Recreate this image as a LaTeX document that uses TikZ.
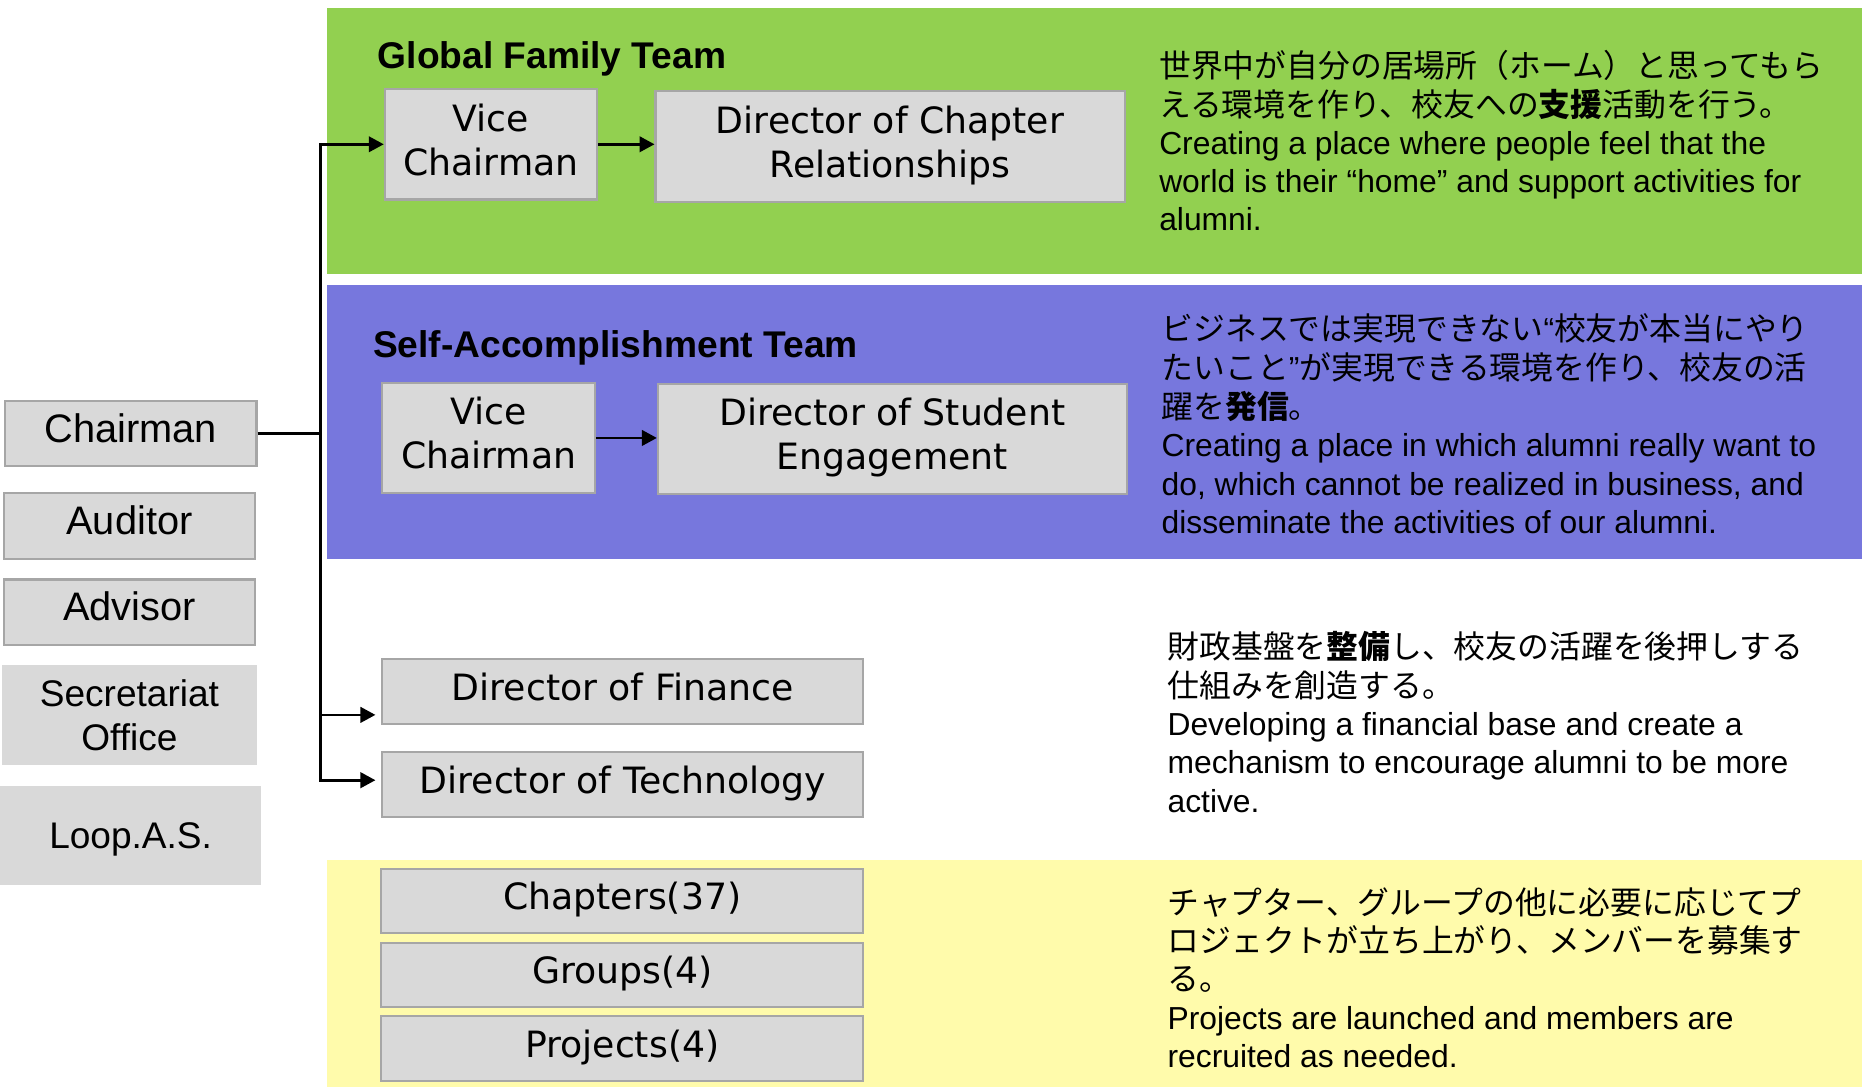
\documentclass[tikz,border=0pt]{standalone}
\usepackage{fontspec}
\setmainfont{Liberation Sans}
\newfontfamily\boxf{DejaVu Sans}
\newfontfamily\jp{Noto Sans CJK JP}
\usetikzlibrary{arrows.meta}
\definecolor{bandgreen}{HTML}{92D050}
\definecolor{bandpurple}{HTML}{7777DD}
\definecolor{bandyellow}{HTML}{FFFBAB}
\definecolor{boxfill}{HTML}{D9D9D9}
\definecolor{boxborder}{HTML}{A6A6A6}
\begin{document}
\begin{tikzpicture}[x=1pt,y=-1pt,
  box/.style={draw=boxborder, line width=1.7pt, fill=boxfill, inner sep=0pt, align=center,
    font=\boxf\fontsize{30.5}{37}\selectfont},
  lbox/.style={draw=boxborder, line width=1.7pt, fill=boxfill, inner sep=0pt, align=center,
    minimum width=212pt, minimum height=55pt, font=\fontsize{33.5}{37}\selectfont},
  nbox/.style={fill=boxfill, inner sep=0pt, align=center, font=\fontsize{31.2}{37}\selectfont},
  title/.style={anchor=base west, inner sep=0pt, font=\bfseries\fontsize{31.3}{37}\selectfont},
  desc/.style={anchor=base west, inner sep=0pt, font=\fontsize{26.8}{32}\selectfont},
  jdesc/.style={anchor=base west, inner sep=0pt, font=\jp\fontsize{26.8}{32}\selectfont},
  conn/.style={line width=2.3pt},
  arr/.style={line width=2.3pt, -{Triangle[length=12.6pt,width=13pt]}}]
\useasboundingbox (0,0) rectangle (1568,915.4);
% bands
\fill[bandgreen] (275,7) rectangle (1568,230.6);
\fill[bandpurple] (275,240) rectangle (1568,471);
\fill[bandyellow] (275,724.5) rectangle (1568,915.4);
% titles
\node[title] (tg) at (318,57.8) {Global Family Team};
\node[title] (ts) at (314,301) {Self-Accomplishment Team};
% team boxes
\node[box, minimum width=179pt, minimum height=93pt] (vc1) at (413.5,121.5) {\strut Vice\\\strut Chairman};
\node[box, minimum width=395pt, minimum height=93pt] (dcr) at (749.5,123.5) {\strut Director of Chapter\\\strut Relationships};
\node[box, minimum width=179pt, minimum height=93pt] (vc2) at (411.5,368.8) {\strut Vice\\\strut Chairman};
\node[box, minimum width=395pt, minimum height=93pt] (dse) at (751.5,369.5) {\strut Director of Student\\\strut Engagement};
\node[box, minimum width=405pt, minimum height=55pt] (dof) at (524.5,582.5) {\strut Director of Finance};
\node[box, minimum width=405pt, minimum height=55pt] (dot) at (524.5,660.5) {\strut Director of Technology};
\node[box, minimum width=406pt, minimum height=54.5pt] (chp) at (524,758.7) {\strut Chapters(37)};
\node[box, minimum width=406pt, minimum height=54pt] (grp) at (524,821) {\strut Groups(4)};
\node[box, minimum width=406pt, minimum height=54.7pt] (prj) at (524,883.3) {\strut Projects(4)};
% left boxes
\node[lbox] (chair) at (110,365) {\strut Chairman};
\node[lbox] (aud) at (109,443) {\strut Auditor};
\node[lbox] (adv) at (109,515.5) {\strut Advisor};
\node[nbox, minimum width=214pt, minimum height=84pt] (sec) at (109,602) {Secretariat\\Office};
\node[nbox, minimum width=220pt, minimum height=83.5pt] (loop) at (110,703.7) {\raisebox{0pt}[\height][0pt]{Loop.A.S.}};
% connectors
\coordinate (jch) at (270,365);
\draw[conn] (chair.east) -- (jch);
\draw[arr] (jch) |- (vc1.west);
\draw[arr, shorten >=5pt] (jch) |- ([yshift=-19.5pt]dof.west);
\draw[arr, shorten >=5pt] (jch) |- ([yshift=3.5pt]dot.west);
\draw[arr] (vc1.east) -- (vc1.east -| dcr.west);
\draw[arr] (vc2.east) -- (vc2.east -| dse.west);
% descriptions: global family
\node[jdesc] (g1) at (976,65.5) {世界中が自分の居場所（ホーム）と思ってもら};
\node[jdesc] (g2) at (976,97.7) {える環境を作り、校友への{\bfseries 支援}活動を行う。};
\node[desc] (g3) at (976,129.9) {Creating a place where people feel that the};
\node[desc] (g4) at (976,162.1) {world is their “home” and support activities for};
\node[desc] (g5) at (976,194.3) {alumni.};
% self accomplishment
\node[jdesc] (s1) at (978,287) {ビジネスでは実現できない{\rmfamily “}校友が本当にやり};
\node[jdesc] (s2) at (978,319.5) {たいこと{\rmfamily ”}が実現できる環境を作り、校友の活};
\node[jdesc] (s3) at (978,352) {躍を{\bfseries 発信}。};
\node[desc] (s4) at (978,384.5) {Creating a place in which alumni really want to};
\node[desc] (s5) at (978,417) {do, which cannot be realized in business, and};
\node[desc] (s6) at (978,449.5) {disseminate the activities of our alumni.};
% finance / technology
\node[jdesc] (f1) at (983,554.7) {財政基盤を{\bfseries 整備}し、校友の活躍を後押しする};
\node[jdesc] (f2) at (983,587) {仕組みを創造する。};
\node[desc] (f3) at (983,619.3) {Developing a financial base and create a};
\node[desc] (f4) at (983,651.6) {mechanism to encourage alumni to be more};
\node[desc] (f5) at (983,683.9) {active.};
% chapters
\node[jdesc] (y1) at (983,770) {チャプター、グループの他に必要に応じてプ};
\node[jdesc] (y2) at (983,802.2) {ロジェクトが立ち上がり、メンバーを募集す};
\node[jdesc] (y3) at (983,834.5) {る。};
\node[desc] (y4) at (983,866.7) {Projects are launched and members are};
\node[desc] (y5) at (983,899) {recruited as needed.};
\end{tikzpicture}
\end{document}
